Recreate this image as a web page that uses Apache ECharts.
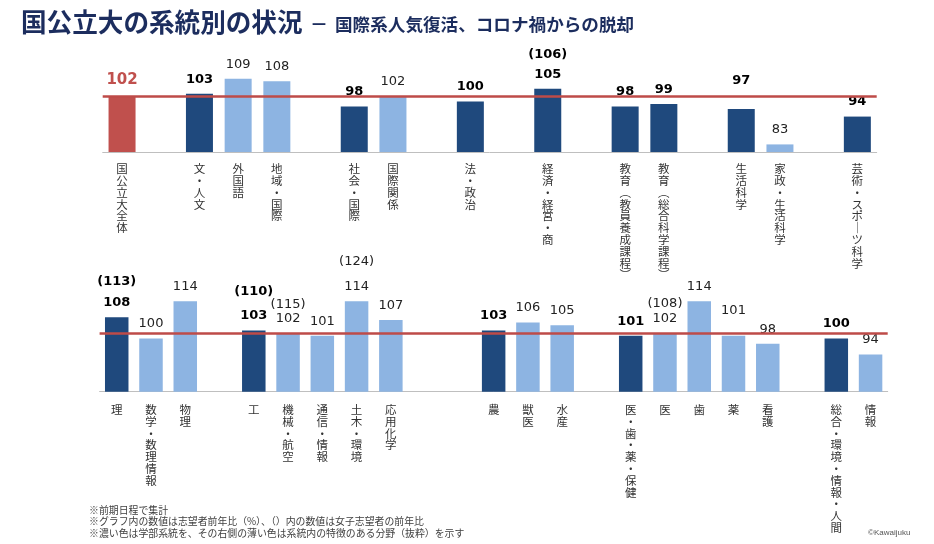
<!DOCTYPE html>
<html><head><meta charset="utf-8">
<script src="https://cdn.jsdelivr.net/npm/echarts@6/dist/echarts.min.js"></script>
<style>html,body{margin:0;padding:0;background:#fff}#c{width:934px;height:544px}</style>
</head><body><div id="c"></div>
<script>
// ---- data ----
const topCategories = ['国公立大全体','','文・人文','外国語','地域・国際','','社会・国際','国際関係','','法・政治','','経済・経営・商','','教育（教員養成課程）','教育（総合科学課程）','','生活科学','家政・生活科学','','芸術・スポーツ科学'];
const topValues = [102,null,103,109,108,null,98,102,null,100,null,105,null,98,99,null,97,83,null,94];
const topFemale = [null,null,null,null,null,null,null,null,null,null,null,106,null,null,null,null,null,null,null,null];
const topKinds = ['all','','main','sub','sub','','main','sub','','main','','main','','main','main','','main','sub','','main'];

const bottomCategories = ['理','数学・数理情報','物理','','工','機械・航空','通信・情報','土木・環境','応用化学','','','農','獣医','水産','','医・歯・薬・保健','医','歯','薬','看護','','総合・環境・情報・人間','情報'];
const bottomValues = [108,100,114,null,103,102,101,114,107,null,null,103,106,105,null,101,102,114,101,98,null,100,94];
const bottomFemale = [113,null,null,null,110,115,null,124,null,null,null,null,null,null,null,null,108,null,null,null,null,null,null];
const bottomKinds = ['main','sub','sub','','main','sub','sub','sub','sub','','','main','sub','sub','','main','sub','sub','sub','sub','','main','sub'];

const overallValue = 102;

const notes = [
  '※前期日程で集計',
  '※グラフ内の数値は志望者前年比（%）、（）内の数値は女子志望者の前年比',
  '※濃い色は学部系統を、その右側の薄い色は系統内の特徴のある分野（抜粋）を示す'
];

// ---- styling ----
const DARK = '#1F497D', LIGHT = '#8DB4E2', RED = '#C0504D';
const NUMFONT = '"DejaVu Sans", Verdana, sans-serif';
const CJK = '"Noto Sans CJK JP", sans-serif';

// label placement tweaks (layout only)
const topDist = {16: 21};
const bottomDist = {18: 18};
const topFemGap = {11: 20};
const bottomFemGap = {0: 20.6, 4: 24.6, 5: 14.3, 7: 25.6, 16: 15};

function verticalize(s) {
  if (!s) return '';
  const map = {'（': '︵', '）': '︶', 'ー': '｜'};
  return Array.from(s).map(ch => map[ch] || ch).join('\n');
}

function buildData(values, kinds, female, distMap, gapMap) {
  return values.map((v, i) => {
    if (v == null) return null;
    const k = kinds[i];
    const color = k === 'all' ? RED : (k === 'main' ? DARK : LIGHT);
    const bold = k !== 'sub';
    const vStyle = k === 'all'
      ? {fontSize: 15, fontWeight: 'bold', color: RED, fontFamily: NUMFONT, lineHeight: 17}
      : {fontSize: 13, fontWeight: bold ? 'bold' : 'normal', color: bold ? '#000' : '#222', fontFamily: NUMFONT, lineHeight: 15};
    let fmt = '{v|' + v + '}';
    const rich = {v: vStyle};
    if (female[i] != null) {
      const g = gapMap[i] || 20;
      rich.f = {fontSize: 13, fontWeight: bold ? 'bold' : 'normal', color: bold ? '#000' : '#222', fontFamily: NUMFONT, lineHeight: Math.max(2 * g - 15, 12)};
      fmt = '{f|(' + female[i] + ')}\n' + fmt;
    }
    return {
      value: v,
      itemStyle: {color},
      label: {show: true, position: 'top', distance: distMap[i] != null ? distMap[i] : (k === 'all' ? 8 : 7), formatter: fmt, rich}
    };
  });
}

function axisLabel(margin) {
  return {
    interval: 0, margin, fontSize: 11.5, lineHeight: 11.8, color: '#333', fontFamily: CJK,
    formatter: verticalize
  };
}

const chart = echarts.init(document.getElementById('c'));
chart.setOption({
  animation: false,
  backgroundColor: '#fff',
  grid: [
    {left: 102.7, right: 57.3, top: 50.8, height: 101.2},
    {left: 99.6, right: 46.3, top: 285.3, height: 106.4}
  ],
  xAxis: [
    {type: 'category', gridIndex: 0, data: topCategories, axisTick: {show: false},
     axisLine: {lineStyle: {color: '#BFBFBF', width: 1}}, axisLabel: axisLabel(11)},
    {type: 'category', gridIndex: 1, data: bottomCategories, axisTick: {show: false},
     axisLine: {lineStyle: {color: '#BFBFBF', width: 1}}, axisLabel: axisLabel(12)}
  ],
  yAxis: [
    {type: 'value', gridIndex: 0, min: 80, max: 120, show: false, splitLine: {show: false}},
    {type: 'value', gridIndex: 1, min: 80, max: 120, show: false, splitLine: {show: false}}
  ],
  series: [
    {type: 'bar', xAxisIndex: 0, yAxisIndex: 0, barWidth: 27,
     data: buildData(topValues, topKinds, topFemale, topDist, topFemGap),
     markLine: {silent: true, symbol: 'none', label: {show: false},
       lineStyle: {color: '#BE4B48', width: 2.5, type: 'solid'}, data: [{yAxis: overallValue}]}},
    {type: 'bar', xAxisIndex: 1, yAxisIndex: 1, barWidth: 23.5,
     data: buildData(bottomValues, bottomKinds, bottomFemale, bottomDist, bottomFemGap),
     markLine: {silent: true, symbol: 'none', label: {show: false},
       lineStyle: {color: '#BE4B48', width: 2.5, type: 'solid'}, data: [{yAxis: overallValue}]}}
  ],
  graphic: [
    {type: 'text', left: 21, top: 9, style: {text: '国公立大の系統別の状況', fontSize: 25.6, fontWeight: 'bold', fill: '#1c2d5e', fontFamily: CJK}},
    {type: 'text', left: 310, top: 15, style: {text: '－', fontSize: 18, fontWeight: 'bold', fill: '#1c2d5e', fontFamily: CJK}},
    {type: 'text', left: 335, top: 16, style: {text: '国際系人気復活、コロナ禍からの脱却', fontSize: 17.6, fontWeight: 'bold', fill: '#1c2d5e', fontFamily: CJK}},
    {type: 'text', left: 89, top: 504, style: {text: notes.join('\n'), fontSize: 9.9, lineHeight: 11.8, fill: '#404040', fontFamily: CJK}},
    {type: 'text', left: 868, top: 529, style: {text: '©Kawaijuku', fontSize: 8, fill: '#555', fontFamily: '"Liberation Sans", Arial, sans-serif'}}
  ]
});
</script></body></html>
